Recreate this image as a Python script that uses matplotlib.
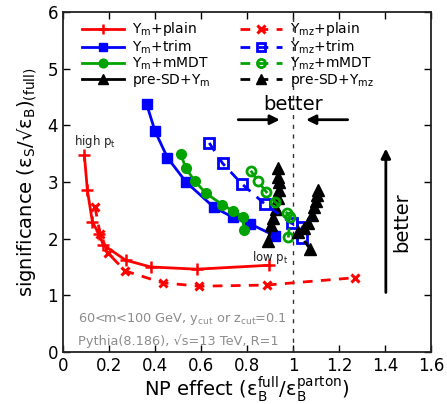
import numpy as np
import matplotlib
matplotlib.use('Agg')
from matplotlib import pyplot as plt

plt.rcParams['mathtext.default'] = 'regular'
plt.rcParams['font.family'] = 'DejaVu Sans'

# Y_m + plain
plain_x = [0.093, 0.106, 0.128, 0.157, 0.175, 0.272, 0.381, 0.581, 0.897]
plain_y = [3.47, 2.85, 2.29, 2.08, 1.89, 1.62, 1.50, 1.46, 1.53]
# Y_mz + plain
plainz_x = [0.139, 0.161, 0.197, 0.270, 0.433, 0.593, 0.885, 1.27]
plainz_y = [2.56, 2.09, 1.74, 1.43, 1.22, 1.16, 1.18, 1.31]
# Y_m + trim
trim_x = [0.364, 0.400, 0.454, 0.535, 0.657, 0.738, 0.813, 0.922]
trim_y = [4.37, 3.90, 3.43, 3.00, 2.55, 2.38, 2.26, 2.05]
# Y_mz + trim
trimz_x = [0.636, 0.694, 0.777, 0.878, 0.994, 1.038, 1.038]
trimz_y = [3.69, 3.33, 2.97, 2.61, 2.27, 2.21, 2.01]
# Y_m + mMDT
mmdt_x = [0.512, 0.535, 0.574, 0.622, 0.693, 0.738, 0.781, 0.787]
mmdt_y = [3.49, 3.24, 3.01, 2.80, 2.60, 2.49, 2.39, 2.16]
# Y_mz + mMDT
mmdtz_x = [0.817, 0.846, 0.883, 0.922, 0.972, 0.987, 0.980]
mmdtz_y = [3.20, 3.02, 2.83, 2.65, 2.46, 2.39, 2.02]
# pre-SD + Y_m
presd_x = [0.893, 0.904, 0.914, 0.925, 0.936, 0.939, 0.939, 0.936, 0.936]
presd_y = [1.95, 2.24, 2.36, 2.53, 2.71, 2.86, 3.00, 3.09, 3.24]
# pre-SD + Y_mz
presdz_x = [1.074, 1.023, 1.049, 1.067, 1.081, 1.093, 1.100, 1.106, 1.110]
presdz_y = [1.82, 2.11, 2.19, 2.27, 2.41, 2.55, 2.66, 2.77, 2.86]

red = '#ff0000'
blue = '#0000ff'
green = '#00a300'
dash = (0, (3.5, 3))

fig = plt.figure(figsize=(4.47, 4.04), dpi=100)
ax = fig.add_axes([0.141, 0.129, 0.823, 0.841])

ax.axvline(1.0, color='#333333', lw=1, ls=(0, (3, 4)))

ax.plot(plain_x, plain_y, color=red, lw=2, marker='+', ms=8, mew=1.8, label='Y$_m$+plain')
ax.plot(trim_x, trim_y, color=blue, lw=2, marker='s', ms=7, label='Y$_m$+trim')
ax.plot(mmdt_x, mmdt_y, color=green, lw=2, marker='o', ms=7, label='Y$_m$+mMDT')
ax.plot(presd_x, presd_y, color='black', lw=2, marker='^', ms=8, label='pre-SD+Y$_m$')
ax.plot(plainz_x, plainz_y, color=red, lw=2, ls=dash, marker='x', ms=6, mew=2.2, label='Y$_{mz}$+plain')
ax.plot(trimz_x, trimz_y, color=blue, lw=2, ls=dash, marker='s', ms=6.5, mfc='none', mew=2, label='Y$_{mz}$+trim')
ax.plot(mmdtz_x, mmdtz_y, color=green, lw=2, ls=dash, marker='o', ms=6.5, mfc='none', mew=2, label='Y$_{mz}$+mMDT')
ax.plot(presdz_x, presdz_y, color='black', lw=2, ls=dash, marker='^', ms=8, label='pre-SD+Y$_{mz}$')

leg = ax.legend(loc='upper left', ncol=2, frameon=False, fontsize=10, handlelength=3.0,
                handletextpad=0.6, columnspacing=2.1, labelspacing=0.0,
                borderaxespad=0.3, borderpad=0.3, markerscale=0.9,
                bbox_to_anchor=(0.03, 1.0))

ax.text(0.14, 3.72, 'high p$_t$', fontsize=8.5, ha='center', va='center', color='#222222')
ax.text(0.90, 1.66, 'low p$_t$', fontsize=8.5, ha='center', va='center', color='#222222')

ax.text(1.0, 4.37, 'better', fontsize=14, ha='center', va='center')
ax.annotate('', xy=(0.955, 4.10), xytext=(0.75, 4.10),
            arrowprops=dict(arrowstyle='-|>', color='black', lw=2, mutation_scale=14))
ax.annotate('', xy=(1.045, 4.10), xytext=(1.25, 4.10),
            arrowprops=dict(arrowstyle='-|>', color='black', lw=2, mutation_scale=14))
ax.annotate('', xy=(1.404, 3.64), xytext=(1.404, 1.0),
            arrowprops=dict(arrowstyle='-|>', color='black', lw=2, mutation_scale=14))
ax.text(1.474, 2.30, 'better', fontsize=14, rotation=90, ha='center', va='center')

ax.text(0.065, 0.53, '60<m<100 GeV, y$_{cut}$ or z$_{cut}$=0.1', fontsize=9.3, color='#8c8c8c')
ax.text(0.065, 0.12, 'Pythia(8.186), \u221as=13 TeV, R=1', fontsize=9.3, color='#8c8c8c')

ax.set_xlim(0, 1.6)
ax.set_ylim(0, 6)
ax.set_xticks(np.arange(0, 1.61, 0.2))
ax.set_xticklabels(['0', '0.2', '0.4', '0.6', '0.8', '1', '1.2', '1.4', '1.6'])
ax.set_yticks(range(0, 7))
ax.tick_params(direction='in', top=True, right=True, labelsize=12, length=5, width=1)
for s in ax.spines.values():
    s.set_linewidth(1.3)
    s.set_color('#222222')

ax.set_xlabel('NP effect (\u03b5$_B^{full}$/\u03b5$_B^{parton}$)', fontsize=14, labelpad=0)
ax.set_ylabel('significance (\u03b5$_S$/\u221a\u03b5$_B$)$_{(full)}$', fontsize=14, labelpad=6)

fig.savefig('out.png', dpi=100)
